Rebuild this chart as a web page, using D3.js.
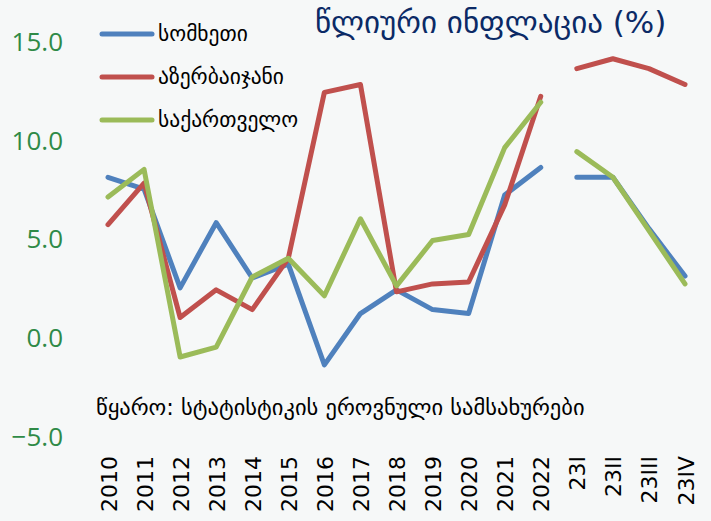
<!DOCTYPE html>
<html><head><meta charset="utf-8">
<script src="https://cdn.jsdelivr.net/npm/d3@7"></script>
<style>
html,body{margin:0;padding:0;background:#f6f8f8;}
svg{display:block;}
</style></head>
<body>
<svg id="chart" width="711" height="521"></svg>
<script>
const categories = ["2010","2011","2012","2013","2014","2015","2016","2017","2018","2019","2020","2021","2022","23I","23II","23III","23IV"];
const armenia    = [8.1, 7.5, 2.5, 5.8, 3.0, 3.7, -1.4, 1.2, 2.4, 1.4, 1.2, 7.2, 8.6, 8.1, 8.1, 5.5, 3.1];
const azerbaijan = [5.7, 7.8, 1.0, 2.4, 1.4, 4.0, 12.4, 12.8, 2.3, 2.7, 2.8, 6.7, 12.2, 13.6, 14.1, 13.6, 12.8];
const georgia    = [7.1, 8.5, -1.0, -0.5, 3.05, 4.0, 2.1, 6.0, 2.6, 4.9, 5.2, 9.6, 11.9, 9.4, 8.1, 5.4, 2.7];
const seriesNames = ["სომხეთი","აზერბაიჯანი","საქართველო"];
const yTicks = [-5, 0, 5, 10, 15];
const title = "წლიური ინფლაცია (%)";
const source = "წყარო: სტატისტიკის ეროვნული სამსახურები";

const colors = ["#4f81bd","#c0504d","#9bbb59"];
const series = [armenia, azerbaijan, georgia];

const svg = d3.select("#chart");
svg.append("rect").attr("width",711).attr("height",521).attr("fill","#f6f8f8");

const x = d3.scalePoint().domain(categories).range([108, 685]);
const y = d3.scaleLinear().domain([-5, 15]).range([436, 41]);

// y axis labels
const yAxis = d3.axisLeft(y).tickValues(yTicks).tickFormat(d3.format(".1f")).tickSize(0).tickPadding(0);
const gy = svg.append("g").attr("transform","translate(63,0)").call(yAxis);
gy.select(".domain").remove();
gy.selectAll("text")
  .attr("fill","#2f8a47")
  .attr("font-family","'Open Sans', sans-serif")
  .attr("font-size","26px")
  .attr("dy","0.36em");

// x axis labels
const xAxis = d3.axisBottom(x).tickSize(0).tickPadding(0);
const gx = svg.append("g").attr("transform","translate(0,456)").call(xAxis);
gx.select(".domain").remove();
gx.selectAll("text")
  .attr("fill","#000")
  .attr("font-family","'DejaVu Sans', sans-serif")
  .attr("font-size","22px")
  .attr("text-anchor","end")
  .attr("dy",null)
  .attr("y",0)
  .attr("transform","rotate(-90) translate(0,8)");

// lines (gap between 2022 and 23I)
const splitIdx = categories.indexOf("23I");
const line = d3.line().x(d => x(d.c)).y(d => y(d.v)).curve(d3.curveLinear);
series.forEach((vals, i) => {
  const pts = vals.map((v, j) => ({c: categories[j], v}));
  [pts.slice(0, splitIdx), pts.slice(splitIdx)].forEach(seg => {
    svg.append("path")
      .attr("d", line(seg))
      .attr("fill","none")
      .attr("stroke", colors[i])
      .attr("stroke-width", 5)
      .attr("stroke-linejoin","round")
      .attr("stroke-linecap","round");
  });
});

// legend
const legendY = [34, 77, 120];
seriesNames.forEach((name, i) => {
  svg.append("line")
    .attr("x1",102).attr("x2",152)
    .attr("y1",legendY[i]).attr("y2",legendY[i])
    .attr("stroke",colors[i]).attr("stroke-width",5).attr("stroke-linecap","round");
  svg.append("text")
    .attr("x",158).attr("y",legendY[i]+7)
    .attr("font-family","'DejaVu Sans', sans-serif")
    .attr("font-size","21.5px")
    .attr("fill","#000")
    .text(name);
});

// title
svg.append("text")
  .attr("x",315).attr("y",33)
  .attr("font-family","'DejaVu Sans', sans-serif")
  .attr("font-size","31px")
  .attr("fill","#0b2a66")
  .text(title);

// source
svg.append("text")
  .attr("x",96).attr("y",415)
  .attr("font-family","'DejaVu Sans', sans-serif")
  .attr("font-size","22.5px")
  .attr("fill","#000")
  .text(source);
</script>
</body></html>
